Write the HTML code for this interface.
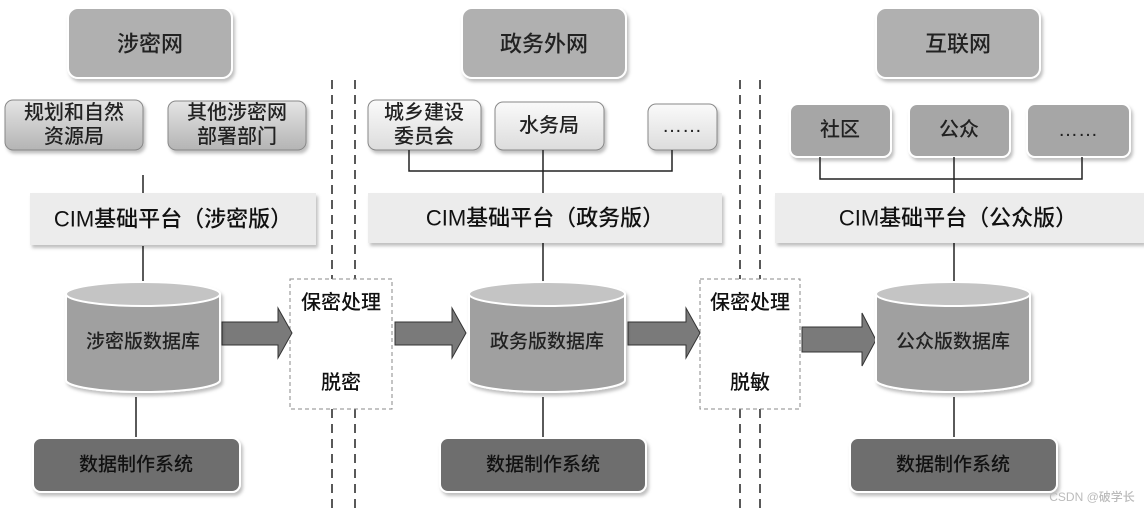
<!DOCTYPE html>
<html><head><meta charset="utf-8"><style>
html,body{margin:0;padding:0;background:#fff;}
svg{display:block;}
text{font-family:"Liberation Sans","Noto Sans CJK SC",sans-serif;text-anchor:middle;dominant-baseline:central;font-weight:500;}
</style></head><body>
<svg width="1144" height="513" viewBox="0 0 1144 513" xmlns="http://www.w3.org/2000/svg">
<defs>
<filter id="sh" x="-10%" y="-10%" width="130%" height="140%"><feDropShadow dx="2" dy="3" stdDeviation="1.5" flood-color="#000" flood-opacity="0.25"/></filter>
<linearGradient id="gl" x1="0" y1="0" x2="0" y2="1"><stop offset="0" stop-color="#e4e4e4"/><stop offset="1" stop-color="#b4b4b4"/></linearGradient>
<linearGradient id="gw" x1="0" y1="0" x2="0" y2="1"><stop offset="0" stop-color="#fafafa"/><stop offset="1" stop-color="#dcdcdc"/></linearGradient>
</defs>
<g stroke="#fff" stroke-width="2" filter="url(#sh)">
<rect x="68" y="8" width="164" height="70" rx="10" fill="#b0b0b0"/>
<rect x="462" y="8" width="164" height="70" rx="10" fill="#b0b0b0"/>
<rect x="876" y="8" width="164" height="70" rx="10" fill="#b0b0b0"/>
</g>
<g font-size="22" fill="#222">
<text x="150" y="44">涉密网</text><text x="544" y="44">政务外网</text><text x="958" y="44">互联网</text>
</g>
<g stroke="#888" stroke-width="1" filter="url(#sh)">
<rect x="5" y="100" width="138" height="50" rx="8" fill="url(#gl)"/>
<rect x="168" y="101" width="138" height="49" rx="8" fill="url(#gl)"/>
<rect x="368" y="100" width="113" height="50" rx="8" fill="url(#gw)"/>
<rect x="495" y="102" width="109" height="48" rx="8" fill="url(#gw)"/>
<rect x="648" y="104" width="69" height="46" rx="8" fill="url(#gw)"/>
</g>
<g stroke="#fff" stroke-width="2" filter="url(#sh)">
<rect x="790" y="104" width="101" height="53" rx="8" fill="#a6a6a6"/>
<rect x="909" y="104" width="101" height="53" rx="8" fill="#a6a6a6"/>
<rect x="1027" y="104" width="103" height="53" rx="8" fill="#a6a6a6"/>
</g>
<g font-size="20" fill="#222">
<text x="74" y="113">规划和自然</text><text x="74" y="137">资源局</text>
<text x="237" y="113">其他涉密网</text><text x="237" y="137">部署部门</text>
<text x="424" y="113">城乡建设</text><text x="424" y="137">委员会</text>
<text x="549" y="126">水务局</text><text x="682" y="126">……</text>
<text x="840" y="130">社区</text><text x="959" y="130">公众</text><text x="1078" y="130">……</text>
</g>
<g stroke="#222" stroke-width="1.5" fill="none">
<line x1="143" y1="175" x2="143" y2="193"/>
<polyline points="409,150 409,171 672,171 672,150"/><line x1="543" y1="150" x2="543" y2="193"/>
<polyline points="820,157 820,179 1082,179 1082,157"/><line x1="954" y1="157" x2="954" y2="193"/>
<line x1="143" y1="246" x2="143" y2="283"/><line x1="543" y1="243" x2="543" y2="283"/><line x1="954" y1="243" x2="954" y2="283"/>
<line x1="136" y1="397" x2="136" y2="437"/><line x1="543" y1="397" x2="543" y2="437"/><line x1="954" y1="397" x2="954" y2="437"/>
</g>
<g fill="#ececec" filter="url(#sh)">
<rect x="30" y="193" width="286" height="52"/>
<rect x="368" y="193" width="354" height="50"/>
<rect x="775" y="193" width="369" height="50"/>
</g>
<g font-size="22" fill="#111">
<text x="173" y="219">CIM基础平台（涉密版）</text>
<text x="545" y="218">CIM基础平台（政务版）</text>
<text x="958" y="218">CIM基础平台（公众版）</text>
</g>
<g stroke="#222" stroke-width="1.5" stroke-dasharray="9,6">
<line x1="332" y1="80" x2="332" y2="279"/><line x1="355" y1="80" x2="355" y2="279"/>
<line x1="332" y1="409" x2="332" y2="513"/><line x1="355" y1="409" x2="355" y2="513"/>
<line x1="740" y1="80" x2="740" y2="279"/><line x1="760" y1="80" x2="760" y2="279"/>
<line x1="740" y1="409" x2="740" y2="513"/><line x1="760" y1="409" x2="760" y2="513"/>
</g>
<g fill="#fff" stroke="#888" stroke-width="1" stroke-dasharray="4,3">
<rect x="290" y="279" width="102" height="130"/>
<rect x="700" y="279" width="100" height="130"/>
</g>
<g font-size="20" fill="#111">
<text x="341" y="303">保密处理</text><text x="341" y="383">脱密</text>
<text x="750" y="303">保密处理</text><text x="750" y="383">脱敏</text>
</g>
<g fill="#7a7a7a" stroke="#333" stroke-width="1">
<polygon points="222,322 278,322 278,308 292,333 278,358 278,345 222,345"/>
<polygon points="395,322 452,322 452,308 466,333 452,358 452,345 395,345"/>
<polygon points="628,322 686,322 686,308 700,333 686,358 686,345 628,345"/>
<polygon points="802,327 862,327 862,313 876,340 862,366 862,352 802,352"/>
</g>
<g filter="url(#sh)">
<g transform="translate(66,0)"><path d="M0,294 L0,380 A77,12 0 0 0 154,380 L154,294 Z" fill="#a0a0a0" stroke="#fff" stroke-width="2"/><ellipse cx="77" cy="294" rx="77" ry="12" fill="#c4c4c4" stroke="#fff" stroke-width="2"/></g>
<g transform="translate(469,0)"><path d="M0,294 L0,380 A78,12 0 0 0 156,380 L156,294 Z" fill="#a0a0a0" stroke="#fff" stroke-width="2"/><ellipse cx="78" cy="294" rx="78" ry="12" fill="#c4c4c4" stroke="#fff" stroke-width="2"/></g>
<g transform="translate(876,0)"><path d="M0,294 L0,380 A77,12 0 0 0 154,380 L154,294 Z" fill="#a0a0a0" stroke="#fff" stroke-width="2"/><ellipse cx="77" cy="294" rx="77" ry="12" fill="#c4c4c4" stroke="#fff" stroke-width="2"/></g>
</g>
<g font-size="19" fill="#222">
<text x="143" y="342">涉密版数据库</text><text x="547" y="342">政务版数据库</text><text x="953" y="342">公众版数据库</text>
</g>
<g fill="#6e6e6e" stroke="#fff" stroke-width="2" filter="url(#sh)">
<rect x="33" y="438" width="207" height="54" rx="8"/>
<rect x="440" y="438" width="206" height="54" rx="8"/>
<rect x="850" y="438" width="207" height="54" rx="8"/>
</g>
<g font-size="19" fill="#111">
<text x="136" y="465">数据制作系统</text><text x="543" y="465">数据制作系统</text><text x="953" y="465">数据制作系统</text>
</g>
<text x="1092" y="497" font-size="12" fill="#bbb">CSDN @破学长</text>
</svg>
</body></html>
